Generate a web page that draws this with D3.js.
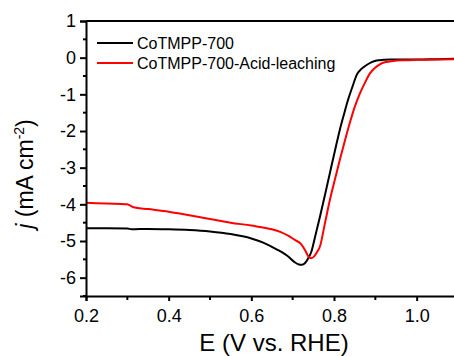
<!DOCTYPE html>
<html>
<head>
<meta charset="utf-8">
<script src="https://cdn.jsdelivr.net/npm/d3@7"></script>
<style>
  body { margin: 0; background: #fff; }
  text { font-family: "Liberation Sans", Arial, sans-serif; fill: #000; }
</style>
</head>
<body>
<script>
// Curve data (E in V vs. RHE, j in mA cm-2)
var eBlack = [0.2, 0.25, 0.3, 0.31, 0.35, 0.4, 0.45, 0.5, 0.55, 0.6, 0.63, 0.66, 0.69, 0.705, 0.715, 0.722, 0.73, 0.737, 0.745, 0.755, 0.766, 0.778, 0.79, 0.802, 0.814, 0.824, 0.834, 0.845, 0.855, 0.867, 0.879, 0.89, 0.903, 0.92, 0.935, 0.96, 1.0, 1.05, 1.1];
var jBlack = [-4.65, -4.65, -4.66, -4.68, -4.67, -4.68, -4.70, -4.74, -4.81, -4.93, -5.05, -5.22, -5.43, -5.58, -5.64, -5.65, -5.6, -5.48, -5.3, -4.85, -4.34, -3.75, -3.15, -2.55, -1.97, -1.55, -1.15, -0.78, -0.47, -0.30, -0.2, -0.13, -0.08, -0.06, -0.05, -0.05, -0.05, -0.04, -0.03];

var eRed = [0.2, 0.25, 0.3, 0.305, 0.315, 0.35, 0.4, 0.45, 0.5, 0.55, 0.6, 0.65, 0.67, 0.69, 0.705, 0.72, 0.73, 0.738, 0.745, 0.752, 0.76, 0.766, 0.778, 0.79, 0.802, 0.814, 0.826, 0.838, 0.85, 0.863, 0.875, 0.887, 0.9, 0.911, 0.925, 0.943, 0.97, 1.0, 1.05, 1.1];
var jRed = [-3.96, -3.98, -4.0, -4.02, -4.08, -4.13, -4.2, -4.3, -4.4, -4.5, -4.58, -4.68, -4.75, -4.86, -4.97, -5.08, -5.25, -5.42, -5.47, -5.42, -5.28, -5.15, -4.52, -3.88, -3.33, -2.79, -2.28, -1.79, -1.35, -0.97, -0.68, -0.43, -0.27, -0.18, -0.12, -0.09, -0.07, -0.06, -0.05, -0.04];

var seriesNames = ["CoTMPP-700", "CoTMPP-700-Acid-leaching"];
var seriesColors = ["#000000", "#ff0000"];

var xTicks = [0.2, 0.4, 0.6, 0.8, 1.0];
var xMinor = [0.3, 0.5, 0.7, 0.9, 1.1];
var yTicks = [1, 0, -1, -2, -3, -4, -5, -6];
var yMinor = [0.5, -0.5, -1.5, -2.5, -3.5, -4.5, -5.5, -6.5];

// Canvas
var width = 454;
var height = 356;

var svg = d3.select("body")
    .append("svg")
    .attr("width", width)
    .attr("height", height)

// Plot area (right edge runs past the picture, as in the reference)
var x = d3.scaleLinear().domain([0.2, 1.1]).range([86, 458]);
var y = d3.scaleLinear().domain([-6.5, 1]).range([296, 21]);

// Curves
var line = d3.line()
    .x(function (d) { return x(d[0]); })
    .y(function (d) { return y(d[1]); })
    .curve(d3.curveMonotoneX);

var curves = [d3.zip(eBlack, jBlack), d3.zip(eRed, jRed)];

curves.forEach(function (c, i) {
    svg.append("path")
        .datum(c)
        .attr("d", line)
        .attr("fill", "none")
        .attr("stroke", seriesColors[i])
        .attr("stroke-width", 2)
        .attr("stroke-linejoin", "round");
});

// Bottom axis
var xAxis = d3.axisBottom(x)
    .tickValues(xTicks)
    .tickFormat(d3.format(".1f"))
    .tickSize(5)
    .tickPadding(8);
var gx = svg.append("g")
    .attr("transform", "translate(0," + y(-6.5) + ")")
    .call(xAxis);
gx.selectAll("g.minor")
    .data(xMinor)
    .enter()
    .append("line")
    .attr("x1", function (d) { return x(d); })
    .attr("x2", function (d) { return x(d); })
    .attr("y2", 4)
    .attr("stroke", "#000")
    .attr("stroke-width", 2);

// Left axis
var yAxis = d3.axisLeft(y)
    .tickValues(yTicks)
    .tickFormat(function (d) { return d; })
    .tickSize(6)
    .tickPadding(4);
var gy = svg.append("g")
    .attr("transform", "translate(" + x(0.2) + ",0)")
    .call(yAxis);
gy.selectAll("g.minor")
    .data(yMinor)
    .enter()
    .append("line")
    .attr("y1", function (d) { return y(d); })
    .attr("y2", function (d) { return y(d); })
    .attr("x2", -3)
    .attr("stroke", "#000")
    .attr("stroke-width", 2);

[gx, gy].forEach(function (g) {
    g.select(".domain").attr("stroke-width", 2).attr("stroke", "#000");
    g.selectAll(".tick line").attr("stroke-width", 2);
    g.selectAll(".tick text")
        .style("font-size", "18px")
        .attr("fill", "#000");
});

// Top frame line
svg.append("line")
    .attr("x1", x(0.2))
    .attr("x2", width)
    .attr("y1", y(1))
    .attr("y2", y(1))
    .attr("stroke", "#000")
    .attr("stroke-width", 2);

// Axis titles
svg.append("text")
    .attr("x", 274)
    .attr("y", 351)
    .attr("text-anchor", "middle")
    .style("font-size", "24px")
    .text("E (V vs. RHE)");

var yTitle = svg.append("text")
    .attr("transform", "translate(33,174) rotate(-90)")
    .attr("text-anchor", "middle")
    .style("font-size", "23px");
yTitle.append("tspan").style("font-style", "italic").text("j");
yTitle.append("tspan").text(" (mA cm");
yTitle.append("tspan").attr("dy", -9).style("font-size", "14px").text("-2");
yTitle.append("tspan").attr("dy", 9).text(")");

// Legend
var legend = svg.selectAll("g.legend")
    .data(seriesNames)
    .enter()
    .append("g")
    .attr("transform", function (d, i) { return "translate(97," + (43 + i * 20) + ")"; });

legend.append("line")
    .attr("x2", 36)
    .attr("stroke", function (d, i) { return seriesColors[i]; })
    .attr("stroke-width", 2);

legend.append("text")
    .attr("x", 40)
    .attr("y", 5.5)
    .style("font-size", "16px")
    .text(function (d) { return d; });
</script>
</body>
</html>
